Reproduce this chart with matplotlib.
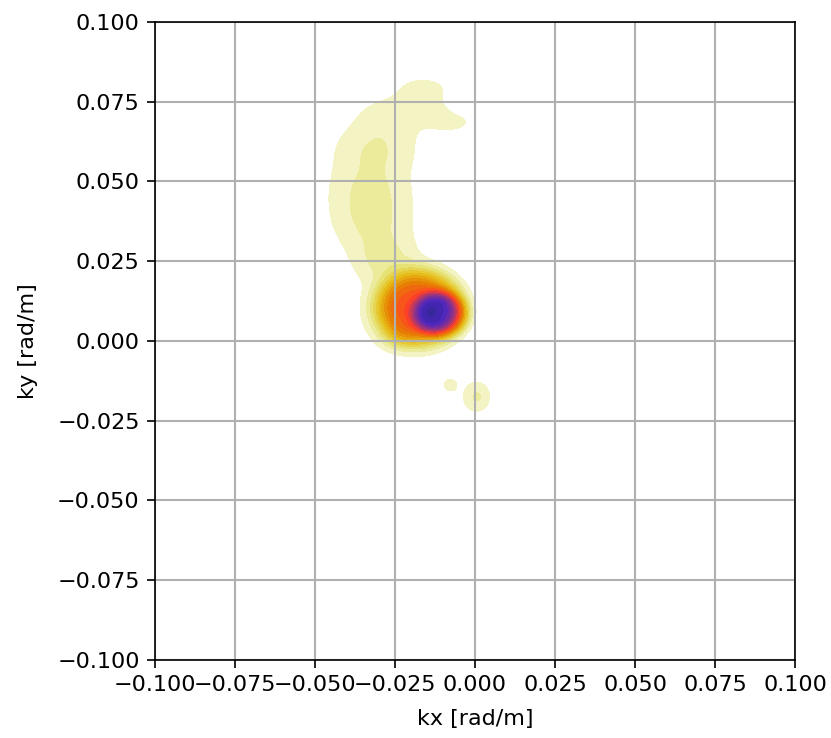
import numpy as np
import matplotlib
matplotlib.use("Agg")
import matplotlib.pyplot as plt
from matplotlib.ticker import MultipleLocator

# spectral peaks: centre (kx, ky), widths, shape exponent and peak energy (normalised)
# main swell peak
peak_kx = [-0.0110, -0.0175, -0.0200, -0.0240]
peak_ky = [0.0086, 0.0105, 0.0095, 0.0010]
peak_sx = [0.0058, 0.0095, 0.0105, 0.0040]
peak_sy = [0.0048, 0.0082, 0.0085, 0.0028]
peak_p = [2.0, 2.0, 1.0, 1.0]
peak_amp = [0.36, 0.38, 0.09, 0.05]
# weak plume running north-west
plume_kx = [-0.0280, -0.0320, -0.0330, -0.0310, -0.0260, -0.0160, -0.0125, -0.0065]
plume_ky = [0.0250, 0.0360, 0.0480, 0.0610, 0.0710, 0.0790, 0.0715, 0.0685]
plume_sx = [0.0070, 0.0095, 0.0097, 0.0100, 0.0080, 0.0065, 0.0040, 0.0045]
plume_sy = [0.0050, 0.0070, 0.0070, 0.0060, 0.0045, 0.0032, 0.0030, 0.0022]
plume_p = [1.0] * 8
plume_amp = [0.07, 0.072, 0.072, 0.068, 0.055, 0.055, 0.04, 0.05]
# two small southern patches
patch_kx = [-0.0078, 0.0005]
patch_ky = [-0.0138, -0.0175]
patch_sx = [0.0017, 0.0033]
patch_sy = [0.0017, 0.0037]
patch_p = [1.0, 1.0]
patch_amp = [0.065, 0.085]

kx = np.linspace(-0.1, 0.1, 401)
ky = np.linspace(-0.1, 0.1, 401)
KX, KY = np.meshgrid(kx, ky)
E = np.zeros_like(KX)
for cx, cy, sx, sy, p, a in zip(peak_kx + plume_kx + patch_kx,
                                peak_ky + plume_ky + patch_ky,
                                peak_sx + plume_sx + patch_sx,
                                peak_sy + plume_sy + patch_sy,
                                peak_p + plume_p + patch_p,
                                peak_amp + plume_amp + patch_amp):
    r2 = (KX - cx) ** 2 / (2 * sx ** 2) + (KY - cy) ** 2 / (2 * sy ** 2)
    E += a * np.exp(-r2 ** p)

plt.rcParams['font.size'] = 16
fig = plt.figure(figsize=(8.31, 7.38), dpi=100)
ax = fig.add_axes([0.1865, 0.1057, 0.7702, 0.8645])
levels = np.arange(0.04, 1.0001, 0.04)
ax.contourf(KX, KY, E, levels=levels, cmap='CMRmap_r', vmin=0, vmax=1, antialiased=False)
ax.grid(True, color='#b0b0b0', linewidth=1.5)
ax.set_xlim(-0.1, 0.1)
ax.set_ylim(-0.1, 0.1)
ax.xaxis.set_major_locator(MultipleLocator(0.025))
ax.yaxis.set_major_locator(MultipleLocator(0.025))
ax.set_xlabel('kx [rad/m]', labelpad=10)
ax.set_ylabel('ky [rad/m]', labelpad=14)
ax.tick_params(length=6, width=1.2, pad=5)
for s in ax.spines.values():
    s.set_linewidth(1.2)
fig.savefig('out.png', dpi=100)
